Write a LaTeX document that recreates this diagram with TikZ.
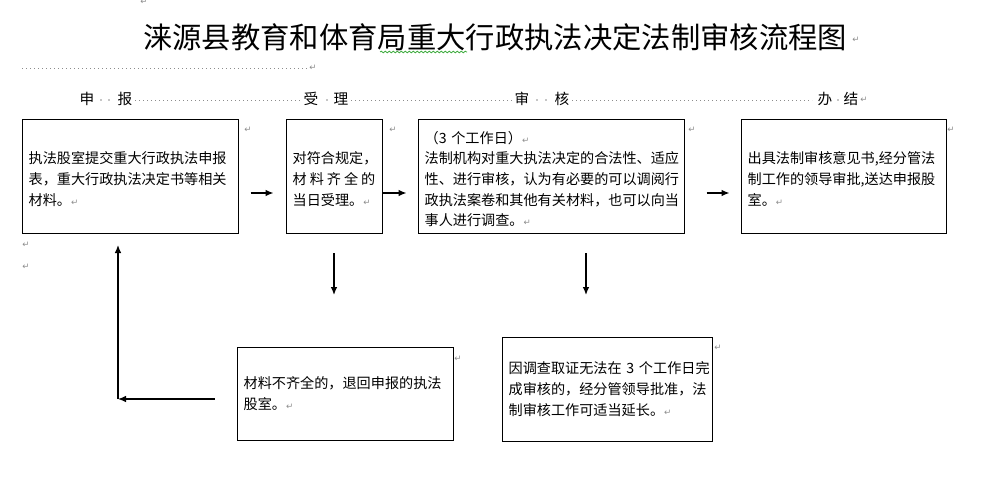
\documentclass[tikz,border=0pt]{standalone}
\usepackage{fontspec}
\setmainfont{Noto Sans CJK SC}
\newfontfamily\dejavu{DejaVu Sans}
\usetikzlibrary{arrows.meta,decorations.pathmorphing}
\definecolor{pmgray}{RGB}{140,140,140}
\definecolor{spellgreen}{RGB}{60,170,60}
\newcommand\parmark{{\dejavu\fontsize{6.5}{6.5}\selectfont\textcolor{pmgray}{↵}}}
\newcommand\topstrut{\rule{0pt}{13.5pt}}
\begin{document}
\begin{tikzpicture}[x=0.75pt,y=-0.75pt,
  box/.style={draw, line width=0.75pt, inner xsep=5pt, inner ysep=0pt, align=left,
    anchor=center, font=\fontsize{10.6}{15.5}\selectfont},
  arr/.style={line width=1pt, -{Latex[length=6pt,width=5pt]}},
  lead/.style={draw=pmgray, line width=0.75pt, dash pattern=on 0.75pt off 2.25pt},
  mk/.style={inner sep=0pt, font=\dejavu\fontsize{6.5}{6.5}\selectfont, text=pmgray},
  ph/.style={inner sep=0pt, font=\fontsize{11}{11}\selectfont},
  spdot/.style={fill=pmgray}
]
\useasboundingbox (0,0) rectangle (1000,500);

% title
\node[inner sep=0pt, font=\fontsize{22}{22}\selectfont] (title) at (495,37) {涞源县教育和体育局重大行政执法决定法制审核流程图};
\draw[spellgreen, line width=0.6pt, decorate, decoration={snake, amplitude=0.6pt, segment length=3pt}] (380,52) -- (467,52);
\node[mk] (m0) at (144,2) {↵};
\node[mk] (m1) at (856,40) {↵};

% top dotted line
\draw[lead] (22,68) -- (307,68);
\node[mk] (m2) at (313,68) {↵};

% phase labels
\node[ph] (p1a) at (87,99) {申};
\node[ph] (p1b) at (125,99) {报};
\fill[spdot] (101,100) circle (0.6pt) (109,100) circle (0.6pt);
\draw[lead] (135,100) -- (302,100);
\node[ph] (p2a) at (311,99) {受};
\node[ph] (p2b) at (341,99) {理};
\fill[spdot] (327,100) circle (0.6pt);
\draw[lead] (351,100) -- (512,100);
\node[ph] (p3a) at (522,99) {审};
\node[ph] (p3b) at (562,99) {核};
\fill[spdot] (537,100) circle (0.6pt) (546,100) circle (0.6pt);
\draw[lead] (572,100) -- (812,100);
\node[ph] (p4a) at (825,99) {办};
\node[ph] (p4b) at (851,99) {结};
\fill[spdot] (838,100) circle (0.6pt);
\node[mk] (m3) at (864,100) {↵};

% boxes
\node[box, minimum width=162pt, minimum height=85.5pt, text width=152pt] (b1) at (130,176)
  {\topstrut 执法股室提交重大行政执法申报\\表，重大行政执法决定书等相关\\材料。\parmark};
\node[box, minimum width=72pt, minimum height=85.5pt, text width=62pt] (b2) at (334,176)
  {\topstrut 对符合规定，\\\makebox[5.85em][s]{材\hfil 料\hfil 齐\hfil 全\hfil 的}\\当日受理。\parmark};
\node[box, minimum width=199.5pt, minimum height=85.5pt, text width=189.5pt] (b3) at (551,176)
  {\topstrut （3~个工作日）\parmark\\法制机构对重大执法决定的合法性、适应\\性、进行审核，认为有必要的可以调阅行\\政执法案卷和其他有关材料，也可以向当\\事人进行调查。\parmark};
\node[box, minimum width=153.75pt, minimum height=85.5pt, text width=143.75pt] (b4) at (843.5,176)
  {\topstrut 出具法制审核意见书,经分管法\\制工作的领导审批,送达申报股\\室。\parmark};
\node[box, minimum width=162pt, minimum height=69.75pt, text width=152pt] (b5) at (345,393.5)
  {材料不齐全的，退回申报的执法\\股室。\parmark};
\node[box, minimum width=157.5pt, minimum height=78pt, text width=147.5pt] (b6) at (607,389)
  {因调查取证无法在~3~个工作日完\\成审核的，经分管领导批准，法\\制审核工作可适当延长。\parmark};

% paragraph marks outside boxes
\node[mk] (m4) at (248,130) {↵};
\node[mk] (m5) at (393,130) {↵};
\node[mk] (m6) at (692,130) {↵};
\node[mk] (m7) at (951,130) {↵};
\node[mk] (m8) at (26,245) {↵};
\node[mk] (m9) at (26,267) {↵};
\node[mk] (m10) at (458,359) {↵};
\node[mk] (m11) at (718,348) {↵};

% horizontal arrows
\draw[arr] ([xshift=9pt,yshift=-12.75pt]b1.east) -- ([xshift=-9pt,yshift=-12.75pt]b2.west);
\draw[arr] ([yshift=-12.75pt]b2.east) -- ([xshift=-8.25pt,yshift=-12.75pt]b3.west);
\draw[arr] ([xshift=16.5pt,yshift=-12.75pt]b3.east) -- ([xshift=-8.25pt,yshift=-12.75pt]b4.west);

% down arrows
\coordinate (d1s) at (334,253);
\coordinate (d1e) at (334,295);
\coordinate (d2s) at (586,253);
\coordinate (d2e) at (586,295);
\draw[arr] (d1s) -- (d1e);
\draw[arr] (d2s) -- (d2e);

% return arrow
\coordinate (rc) at (118,399);
\coordinate (rt) at (118,245);
\draw[arr] ([xshift=-16.5pt]b5.west |- rc) -- (rc);
\draw[arr] (rc) -- (rt);
\end{tikzpicture}
\end{document}
